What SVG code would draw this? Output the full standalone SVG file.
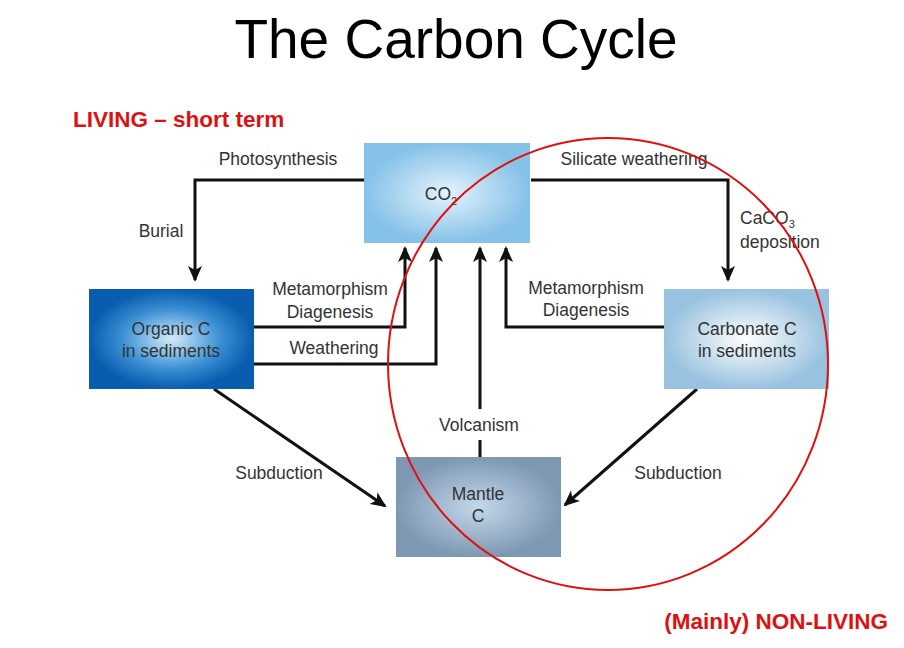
<svg xmlns="http://www.w3.org/2000/svg" width="904" height="648" viewBox="0 0 904 648">
<defs>
<radialGradient id="gCO2"><stop offset="0" stop-color="#e4f3fc"/><stop offset="1" stop-color="#86c1e8"/></radialGradient>
<radialGradient id="gOrg"><stop offset="0" stop-color="#d4ecfa"/><stop offset="0.6" stop-color="#3a8fd4"/><stop offset="1" stop-color="#0a5cae"/></radialGradient>
<radialGradient id="gCarb"><stop offset="0" stop-color="#ffffff"/><stop offset="1" stop-color="#98c2df"/></radialGradient>
<radialGradient id="gMan"><stop offset="0" stop-color="#c4d8ea"/><stop offset="1" stop-color="#7e98b3"/></radialGradient>
<marker id="ah" viewBox="0 0 16 14" refX="14" refY="7" markerWidth="16" markerHeight="14" orient="auto" markerUnits="userSpaceOnUse"><path d="M0,0 L16,7 L0,14 L4,7 Z" fill="#111"/></marker>
</defs>
<style>
text{font-family:"Liberation Sans",Arial,sans-serif;fill:#333;font-size:17.5px}
.l{stroke:#111;stroke-width:3;fill:none}
.red{fill:#e01010;font-weight:bold;font-size:22.5px}
</style>
<text x="456" y="58" text-anchor="middle" style="font-size:55px;fill:#000">The Carbon Cycle</text>
<text x="73" y="127" class="red">LIVING – short term</text>
<text x="888" y="629" class="red" text-anchor="end">(Mainly) NON-LIVING</text>
<g id="connectors">
<path class="l" d="M365,180 H195 V280" marker-end="url(#ah)"/>
<path class="l" d="M531,180 H728 V280" marker-end="url(#ah)"/>
<path class="l" d="M254,327 H405 V248" marker-end="url(#ah)"/>
<path class="l" d="M254,364 H436 V248" marker-end="url(#ah)"/>
<path class="l" d="M480,457 V440 M480,409 V248" marker-end="url(#ah)"/>
<path class="l" d="M665,327 H506 V248" marker-end="url(#ah)"/>
<path class="l" d="M214,389 L385,506" marker-end="url(#ah)"/>
<path class="l" d="M697,389 L565,505" marker-end="url(#ah)"/>
</g>
<text x="278" y="165" text-anchor="middle">Photosynthesis</text>
<text x="634" y="165" text-anchor="middle">Silicate weathering</text>
<text x="161" y="237" text-anchor="middle">Burial</text>
<text x="740" y="224">CaCO<tspan font-size="11" dy="4">3</tspan></text>
<text x="740" y="248">deposition</text>
<text x="330" y="295" text-anchor="middle">Metamorphism</text>
<text x="330" y="318" text-anchor="middle">Diagenesis</text>
<text x="334" y="354" text-anchor="middle">Weathering</text>
<text x="586" y="294" text-anchor="middle">Metamorphism</text>
<text x="586" y="316" text-anchor="middle">Diagenesis</text>
<text x="479" y="431" text-anchor="middle">Volcanism</text>
<text x="279" y="479" text-anchor="middle">Subduction</text>
<text x="678" y="479" text-anchor="middle">Subduction</text>
<g id="co2"><rect x="364" y="143" width="166" height="100" fill="url(#gCO2)"/><text x="441" y="200" text-anchor="middle">CO<tspan font-size="11" dy="5">2</tspan></text></g>
<g id="organic"><rect x="89" y="289" width="165" height="100" fill="url(#gOrg)"/><text x="171" y="335" text-anchor="middle">Organic C</text><text x="171" y="357" text-anchor="middle">in sediments</text></g>
<g id="carbonate"><rect x="664" y="289" width="165" height="100" fill="url(#gCarb)"/><text x="747" y="335" text-anchor="middle">Carbonate C</text><text x="747" y="357" text-anchor="middle">in sediments</text></g>
<g id="mantle"><rect x="396" y="457" width="165" height="100" fill="url(#gMan)"/><text x="478" y="500" text-anchor="middle">Mantle</text><text x="478" y="522" text-anchor="middle">C</text></g>
<ellipse cx="608" cy="364" rx="220" ry="226" fill="none" stroke="#e01010" stroke-width="2"/>
</svg>
